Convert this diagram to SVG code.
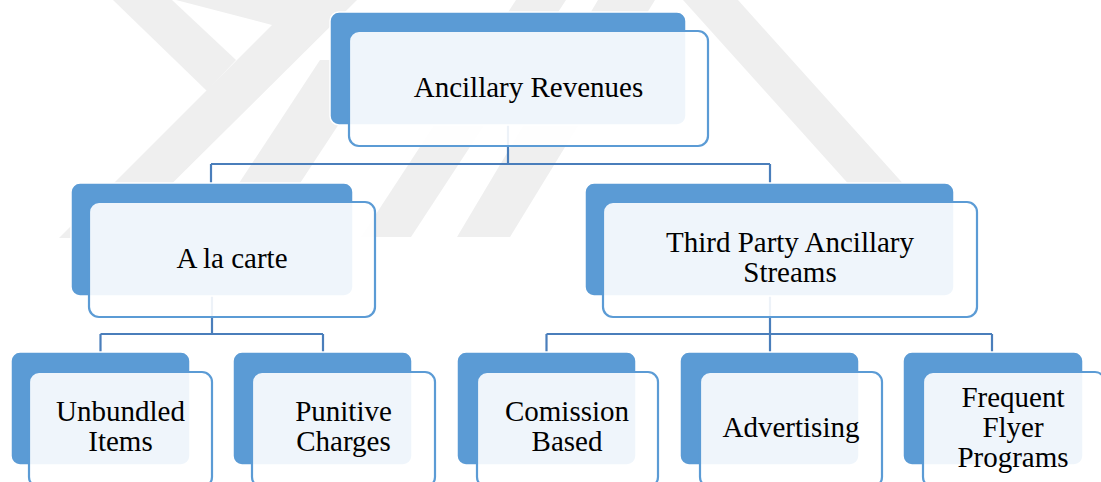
<svg xmlns="http://www.w3.org/2000/svg" width="1101" height="482" viewBox="0 0 1101 482">
<style>
.wm{fill:#efefef}
.back{fill:#5b9bd5;stroke:#ffffff;stroke-width:1.5}
.front{fill:#ffffff;fill-opacity:0.9;stroke:#5b9bd5;stroke-width:2.2}
.conn{fill:none;stroke:#4a7ebb;stroke-width:2.2}
text{font-family:"Liberation Serif","Times New Roman",serif;font-size:29px;fill:#000;text-anchor:middle}
</style>
<rect width="1101" height="482" fill="#ffffff"/>
<g id="watermark">
<polygon class="wm" points="113,0 172,0 236,60 207,91"/>
<polygon class="wm" points="176,0 357,0 117,238 59,238 272,25"/>
<polygon class="wm" points="320,60 381,60 264,238 203,238"/>
<polygon class="wm" points="516,0 566,0 411,237 361,237"/>
<polygon class="wm" points="598,0 655,0 510,237 457,237"/>
<polygon class="wm" points="683,0 738,0 952,238 897,238"/>
</g>
<g id="connectors">
<path class="conn" d="M508,125 V164 M211,164 H770 M211,164 V183 M770,164 V183"/>
<path class="conn" d="M212,296 V334 M100.5,334 H323 M100.5,334 V352 M323,334 V352"/>
<path class="conn" d="M770,296 V334 M546.5,334 H992 M546.5,334 V352 M770,334 V352 M992,334 V352"/>
</g>
<g id="n-ancillary">
<rect class="back" x="330" y="12" width="356" height="113" rx="9"/>
<rect class="front" x="349" y="31" width="359" height="115" rx="10"/>
<text x="528.5" y="97">Ancillary Revenues</text>
</g>
<g id="n-alacarte">
<rect class="back" x="71" y="183" width="282" height="113" rx="9"/>
<rect class="front" x="89" y="202" width="286" height="115" rx="10"/>
<text x="232" y="268">A la carte</text>
</g>
<g id="n-thirdparty">
<rect class="back" x="585" y="183" width="369" height="113" rx="9"/>
<rect class="front" x="603" y="202" width="374" height="115" rx="10"/>
<text x="790" y="252">Third Party Ancillary</text>
<text x="790" y="282">Streams</text>
</g>
<g id="n-unbundled">
<rect class="back" x="11" y="352" width="179" height="113" rx="9"/>
<rect class="front" x="29" y="372" width="183" height="115" rx="10"/>
<text x="120.5" y="421">Unbundled</text>
<text x="120.5" y="451">Items</text>
</g>
<g id="n-punitive">
<rect class="back" x="233" y="352" width="179" height="113" rx="9"/>
<rect class="front" x="252" y="372" width="183" height="115" rx="10"/>
<text x="343.5" y="421">Punitive</text>
<text x="343.5" y="451">Charges</text>
</g>
<g id="n-comission">
<rect class="back" x="457" y="352" width="179" height="113" rx="9"/>
<rect class="front" x="477" y="372" width="181" height="115" rx="10"/>
<text x="567" y="421">Comission</text>
<text x="567" y="451">Based</text>
</g>
<g id="n-advertising">
<rect class="back" x="680" y="352" width="179" height="113" rx="9"/>
<rect class="front" x="700" y="372" width="182" height="115" rx="10"/>
<text x="791" y="437">Advertising</text>
</g>
<g id="n-frequent">
<rect class="back" x="903" y="352" width="180" height="113" rx="9"/>
<rect class="front" x="923" y="372" width="182" height="115" rx="10"/>
<text x="1013" y="407">Frequent</text>
<text x="1013" y="437">Flyer</text>
<text x="1013" y="467">Programs</text>
</g>
</svg>
